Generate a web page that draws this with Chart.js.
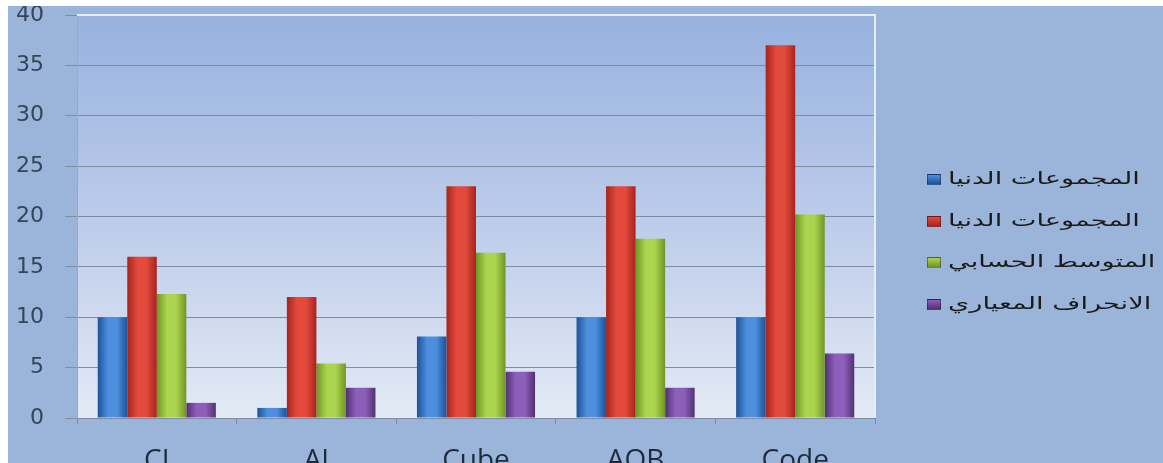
<!DOCTYPE html>
<html>
<head>
<meta charset="utf-8">
<script src="https://cdn.jsdelivr.net/npm/chart.js@4/dist/chart.umd.min.js"></script>
<style>
  html, body { margin: 0; padding: 0; background: #ffffff; overflow: hidden; }
  #wrap { position: absolute; left: 8px; top: 6px; width: 1155px; height: 470px; }
  #legend { position: absolute; left: 927px; top: 168px; margin: 0; padding: 0; list-style: none;
            font-family: 'DejaVu Sans', sans-serif; font-size: 17px; color: #1a1a1a; }
  #legend li { height: 41.7px; display: flex; align-items: flex-start; white-space: nowrap; }
  #legend .box { width: 14px; height: 11px; margin-top: 6px; margin-right: 7px; border: 1px solid rgba(0,0,0,0.35); box-sizing: border-box; }
  #legend .txt { display: inline-block; transform: scaleX(1.6); transform-origin: left center; }
</style>
</head>
<body>
<div id="wrap"><canvas id="chart" width="1155" height="470"></canvas></div>
<ul id="legend"></ul>
<script>
// data
const categories = ['CI', 'AI', 'Cube', 'AOB', 'Code'];
const seriesLabels = ['المجموعات الدنيا', 'المجموعات الدنيا', 'المتوسط الحسابي', 'الانحراف المعياري'];
const minGroups = [10, 1, 8.1, 10, 10];
const maxGroups = [16, 12, 23, 23, 37];
const meanValues = [12.3, 5.4, 16.4, 17.8, 20.2];
const stdDevValues = [1.5, 3, 4.6, 3, 6.4];
const yTicks = [0, 5, 10, 15, 20, 25, 30, 35, 40];

// bar colours: [dark edge, light highlight]
const barColors = [
  ['#1d5299', '#4d8fde'],
  ['#a8231e', '#e24a3c'],
  ['#6f9625', '#add44e'],
  ['#513172', '#8e5fba']
];

// background of the whole chart + gradient plot area
const backgroundPlugin = {
  id: 'bg',
  beforeDraw(chart) {
    const { ctx, chartArea: a, width, height } = chart;
    ctx.save();
    ctx.fillStyle = '#9ab5d9';
    ctx.fillRect(0, 0, width, height);
    const g = ctx.createLinearGradient(0, a.top, 0, a.bottom);
    g.addColorStop(0, '#97b2df');
    g.addColorStop(0.5, '#bccbea');
    g.addColorStop(1, '#e3eaf5');
    ctx.fillStyle = g;
    ctx.fillRect(a.left, a.top, a.right - a.left, a.bottom - a.top);
    ctx.restore();
  },
  afterDraw(chart) {
    const { ctx, chartArea: a } = chart;
    ctx.save();
    ctx.strokeStyle = '#e4edf8';
    ctx.lineWidth = 2;
    ctx.beginPath();
    ctx.moveTo(a.left, a.top);
    ctx.lineTo(a.right, a.top);
    ctx.lineTo(a.right, a.bottom);
    ctx.stroke();
    ctx.restore();
  }
};

// horizontal shading so the bars look rounded
const shadePlugin = {
  id: 'shade',
  beforeDatasetsDraw(chart) {
    const ctx = chart.ctx;
    chart.data.datasets.forEach((ds, i) => {
      const c = barColors[i];
      chart.getDatasetMeta(i).data.forEach(el => {
        const { x, width } = el.getProps(['x', 'width'], true);
        const g = ctx.createLinearGradient(x - width / 2, 0, x + width / 2, 0);
        g.addColorStop(0, c[0]);
        g.addColorStop(0.35, c[1]);
        g.addColorStop(0.65, c[1]);
        g.addColorStop(1, c[0]);
        el.options = Object.assign({}, el.options, { backgroundColor: g });
      });
    });
  }
};

const datasetValues = [minGroups, maxGroups, meanValues, stdDevValues];

new Chart(document.getElementById('chart'), {
  type: 'bar',
  data: {
    labels: categories,
    datasets: datasetValues.map((vals, i) => ({
      label: seriesLabels[i],
      data: vals,
      backgroundColor: barColors[i][0],
      borderWidth: 0,
      barPercentage: 1,
      categoryPercentage: 0.74
    }))
  },
  options: {
    responsive: false,
    animation: false,
    layout: { padding: { top: 0, bottom: 0, right: 288 } },
    plugins: {
      tooltip: { enabled: false },
      legend: { display: false }
    },
    scales: {
      x: {
        afterFit(scale) { scale.height = 58; },
        grid: {
          offset: true,
          drawOnChartArea: false,
          tickLength: 6,
          tickColor: '#7d8aa0'
        },
        border: { color: '#7d8aa0' },
        ticks: {
          color: '#1d2b3d',
          font: { family: 'Open Sans', size: 28 },
          padding: 20
        }
      },
      y: {
        min: 0,
        max: 40,
        afterBuildTicks(scale) { scale.ticks = yTicks.map(v => ({ value: v })); },
        afterFit(scale) {
          scale.width = 69;
          scale.paddingTop = 9;
          scale.paddingBottom = 0;
        },
        grid: {
          color: c => (c.tick && c.tick.value === 40 ? 'rgba(0,0,0,0)' : '#7f8ca2'),
          tickColor: '#7f8ca2',
          tickLength: 12
        },
        border: { color: '#9aa9c0' },
        ticks: {
          color: '#34445a',
          font: { family: 'DejaVu Sans', size: 22 },
          padding: 21
        }
      }
    }
  },
  plugins: [backgroundPlugin, shadePlugin]
});

// legend built from the series labels
const legend = document.getElementById('legend');
seriesLabels.forEach((label, i) => {
  const li = document.createElement('li');
  const box = document.createElement('span');
  box.className = 'box';
  box.style.background = `linear-gradient(to bottom, ${barColors[i][1]}, ${barColors[i][0]})`;
  const txt = document.createElement('span');
  txt.className = 'txt';
  txt.textContent = label;
  li.appendChild(box);
  li.appendChild(txt);
  legend.appendChild(li);
});
</script>
</body>
</html>
